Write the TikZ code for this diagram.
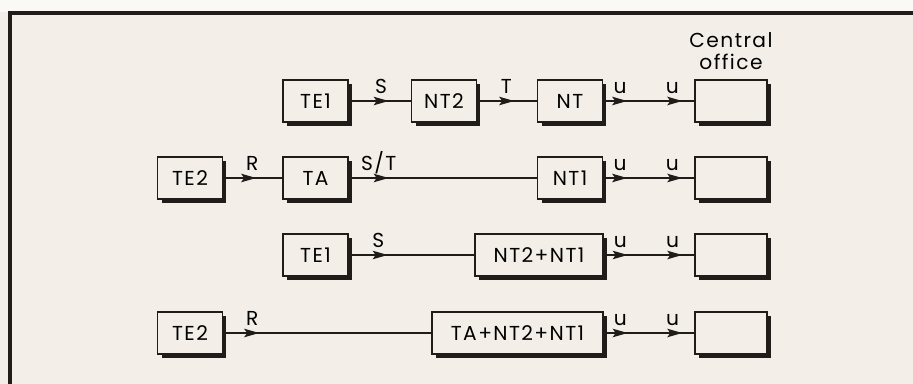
\documentclass[tikz,border=0pt]{standalone}
\usepackage{fontspec}
\setmainfont{Poppins}[LetterSpace=7]
\usetikzlibrary{arrows.meta}
\usetikzlibrary{shadows}
\usetikzlibrary{decorations.markings}
\usetikzlibrary{positioning}
\definecolor{paper}{RGB}{243,239,232}
\definecolor{ink}{RGB}{32,28,26}
\tikzset{
  unit/.style = {draw=ink, fill=paper, line width=0.8pt, align=center,
    inner sep=0pt, minimum width=1.3cm, minimum height=0.84cm,
    drop shadow={shadow xshift=0.08cm, shadow yshift=-0.08cm,
      fill=ink, opacity=1}},% equipment box
  co_n/.style = {unit, minimum width=1.44cm},% central office box
  wire/.style = {draw=ink, line width=0.8pt},
  midtip/.style = {postaction={decorate, decoration={markings,
    mark=at position #1 with {\arrow{>}}}}},% tip on the line
  lbl/.style = {anchor=base, yshift=4.5pt, inner sep=0pt},% reference point
}

\begin{document}
\begin{tikzpicture}[>={Stealth[length=3mm,width=1.7mm,inset=0.6mm]}, x=0.02cm, y=-0.02cm,
  font=\fontsize{11.5pt}{12.6pt}\selectfont]

\useasboundingbox (0,0) rectangle (913,384);
\fill[paper] (0,0) rectangle (913,384);
\fill[white!60!paper] (0,0) rectangle (913,12);
\draw[ink, line width=2.2pt] (8,13) -- (913,13);
\draw[ink, line width=2pt] (10,13) -- (10,384);

% first row
\node [unit] (te1a) at (315.5,101) {TE1};
\node [unit] (nt2a) at (444,101) {NT2};
\node [unit] (nta) at (570,101) {NT};
\node [co_n] (coa) at (731,101) {};
\node [above=2pt of coa, align=center] (colbl) {Central\\office};
% second row
\node [unit] (te2b) at (190,178) {TE2};
\node [unit] (tab) at (315.5,178) {TA};
\node [unit] (nt1b) at (570,178) {NT1};
\node [co_n] (cob) at (731,178) {};
% third row
\node [unit] (te1c) at (315.5,255) {TE1};
\node [unit, minimum width=2.56cm] (nt2c) at (539,255) {NT2+NT1};
\node [co_n] (coc) at (731,255) {};
% fourth row
\node [unit] (te2d) at (190,333) {TE2};
\node [unit, minimum width=3.42cm] (tad) at (517.5,333) {TA+NT2+NT1};
\node [co_n] (cod) at (731,333) {};

\draw [wire, midtip=0.8cm] (te1a) -- node[lbl, pos=0.52] {S} (nt2a);
\draw [wire, midtip=0.74cm] (nt2a) -- node[lbl, pos=0.49] {T} (nta);
\draw [wire, midtip=0.48cm, midtip=-0.24cm] (nta) --
	node[lbl, pos=0.185] {u} node[lbl, pos=0.76] {u} (coa);

\draw [wire, midtip=0.66cm] (te2b) -- node[lbl, pos=0.49] {R} (tab);
\draw [wire, midtip=0.8cm] (tab) -- node[lbl, pos=0.16] {S/T} (nt1b);
\draw [wire, midtip=0.48cm, midtip=-0.24cm] (nt1b) --
	node[lbl, pos=0.185] {u} node[lbl, pos=0.76] {u} (cob);

\draw [wire, midtip=0.78cm] (te1c) -- node[lbl, pos=0.236] {S} (nt2c);
\draw [wire, midtip=0.48cm, midtip=-0.24cm] (nt2c) --
	node[lbl, pos=0.185] {u} node[lbl, pos=0.76] {u} (coc);

\draw [wire, midtip=0.72cm] (te2d) -- node[lbl, pos=0.14] {R} (tad);
\draw [wire, midtip=0.48cm, midtip=-0.24cm] (tad) --
	node[lbl, pos=0.185] {u} node[lbl, pos=0.76] {u} (cod);
\end{tikzpicture}
\end{document}
